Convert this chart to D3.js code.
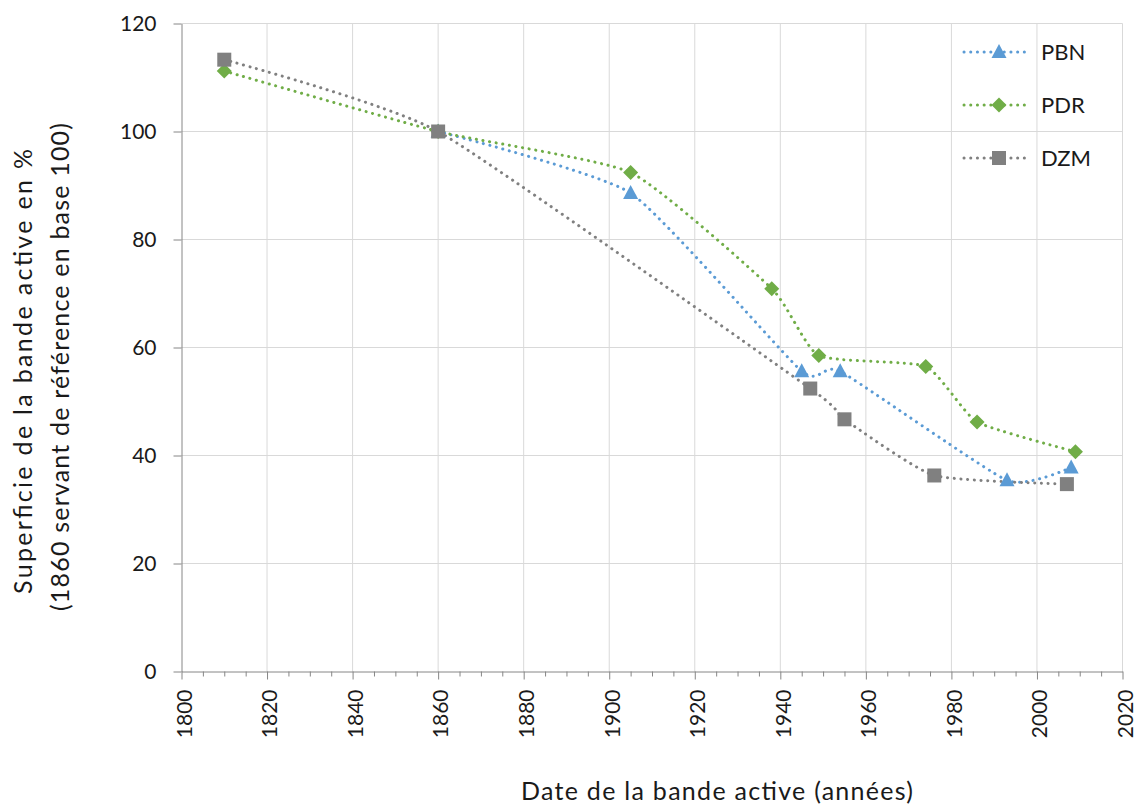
<!DOCTYPE html>
<html><head><meta charset="utf-8">
<script src="https://cdn.jsdelivr.net/npm/d3@7"></script>
<style>body{margin:0;background:#fff}svg{display:block}text{font-family:Lato,"Open Sans",sans-serif;fill:#1a1a1a}</style>
</head><body><svg id="c" width="1136" height="807"></svg>
<script>
const seriesNames = ["PBN", "PDR", "DZM"];
const pbnYears = [1860, 1905, 1945, 1954, 1993, 2008];
const pbnValues = [100, 88.6, 55.6, 55.6, 35.4, 37.8];
const pdrYears = [1810, 1860, 1905, 1938, 1949, 1974, 1986, 2009];
const pdrValues = [111.2, 100, 92.4, 70.9, 58.5, 56.5, 46.2, 40.7];
const dzmYears = [1810, 1860, 1947, 1955, 1976, 2007];
const dzmValues = [113.3, 100, 52.4, 46.7, 36.3, 34.7];
const xTicks = [1800, 1820, 1840, 1860, 1880, 1900, 1920, 1940, 1960, 1980, 2000, 2020];
const yTicks = [0, 20, 40, 60, 80, 100, 120];
const xTitle = "Date de la bande active (années)";
const yTitle = ["Superficie de la bande active en %", "(1860 servant de référence en base 100)"];

const colors = {PBN: "#5B9BD5", PDR: "#70AD47", DZM: "#808080"};
const shapes = {PBN: "triangle", PDR: "diamond", DZM: "square"};
const series = [
  {name: "PBN", pts: pbnYears.map((y, i) => [y, pbnValues[i]])},
  {name: "PDR", pts: pdrYears.map((y, i) => [y, pdrValues[i]])},
  {name: "DZM", pts: dzmYears.map((y, i) => [y, dzmValues[i]])}
];

const svg = d3.select("#c");
const x = d3.scaleLinear().domain([1800, 2020]).range([181.5, 1122.5]);
const y = d3.scaleLinear().domain([0, 120]).range([671.5, 23.5]);
const axisColor = "#868686", gridColor = "#d9d9d9";

// grid
svg.append("g").selectAll("line").data(xTicks.slice(1)).join("line")
  .attr("x1", d => x(d)).attr("x2", d => x(d)).attr("y1", y(0)).attr("y2", y(120))
  .attr("stroke", gridColor).attr("stroke-width", 1);
svg.append("g").selectAll("line").data(yTicks.slice(1)).join("line")
  .attr("x1", x(1800)).attr("x2", x(2020)).attr("y1", d => y(d)).attr("y2", d => y(d))
  .attr("stroke", gridColor).attr("stroke-width", 1);

// x minor ticks
const minor = d3.range(1805, 2020, 5).filter(v => v % 20 !== 0);
const gxm = svg.append("g").attr("transform", `translate(0,${y(0)})`)
  .call(d3.axisBottom(x).tickValues(minor).tickSize(5).tickFormat(""));
gxm.select(".domain").remove();
gxm.selectAll("line").attr("stroke", axisColor);

// x axis
const gx = svg.append("g").attr("transform", `translate(0,${y(0)})`)
  .call(d3.axisBottom(x).tickValues(xTicks).tickSize(8).tickSizeOuter(0).tickFormat(d3.format("d")));
gx.select(".domain").attr("stroke", axisColor);
gx.selectAll("line").attr("stroke", axisColor);
gx.selectAll(".tick text").attr("font-size", 21).attr("fill", "#1a1a1a")
  .attr("text-anchor", "end").attr("x", -18).attr("y", 0).attr("dy", "0.37em")
  .attr("transform", "translate(2,0) rotate(-90)");

// y axis
const gy = svg.append("g").attr("transform", `translate(${x(1800)},0)`)
  .call(d3.axisLeft(y).tickValues(yTicks).tickSize(8).tickSizeOuter(0).tickPadding(17));
gy.select(".domain").attr("stroke", axisColor);
gy.selectAll("line").attr("stroke", axisColor);
gy.selectAll("text").attr("font-size", 21).attr("fill", "#1a1a1a").attr("font-family", "Lato");

// markers
function marker(g, shape, color) {
  if (shape === "triangle") g.append("path").attr("d", "M0,-8 L7.5,6 L-7.5,6 Z").attr("fill", color);
  else if (shape === "diamond") g.append("path").attr("d", "M0,-7.5 L7.5,0 L0,7.5 L-7.5,0 Z").attr("fill", color);
  else g.append("rect").attr("x", -7).attr("y", -7).attr("width", 14).attr("height", 14).attr("fill", color);
}

const line = d3.line().x(d => x(d[0])).y(d => y(d[1])).curve(d3.curveCardinal.tension(0.5));
series.forEach(s => {
  svg.append("path").datum(s.pts).attr("d", line).attr("fill", "none")
    .attr("stroke", colors[s.name]).attr("stroke-width", 3)
    .attr("stroke-linecap", "round").attr("stroke-dasharray", "0.1 6.6");
});
series.forEach(s => {
  svg.append("g").selectAll("g").data(s.pts).join("g")
    .attr("transform", d => `translate(${x(d[0])},${y(d[1])})`)
    .each(function() { marker(d3.select(this), shapes[s.name], colors[s.name]); });
});

// legend
const legY = [52, 105, 158];
seriesNames.forEach((n, i) => {
  const g = svg.append("g").attr("transform", `translate(0,${legY[i]})`);
  g.append("line").attr("x1", 964).attr("x2", 1028).attr("y1", 0).attr("y2", 0)
    .attr("stroke", colors[n]).attr("stroke-width", 3).attr("stroke-linecap", "round")
    .attr("stroke-dasharray", "0.1 6.6");
  const m = g.append("g").attr("transform", "translate(999,0)");
  marker(m, shapes[n], colors[n]);
  g.append("text").attr("x", 1041).attr("y", 0).attr("dy", "0.36em")
    .attr("font-size", 22).text(n);
});

// titles
svg.append("text").attr("x", 717).attr("y", 800).attr("text-anchor", "middle")
  .attr("font-size", 25).attr("textLength", 392).attr("lengthAdjust", "spacing").text(xTitle);
svg.append("text").attr("transform", "translate(32,371.5) rotate(-90)").attr("text-anchor", "middle")
  .attr("font-size", 25).attr("textLength", 445).attr("lengthAdjust", "spacing").text(yTitle[0]);
svg.append("text").attr("transform", "translate(69,367) rotate(-90)").attr("text-anchor", "middle")
  .attr("font-size", 25).attr("textLength", 488).attr("lengthAdjust", "spacing").text(yTitle[1]);
</script></body></html>
